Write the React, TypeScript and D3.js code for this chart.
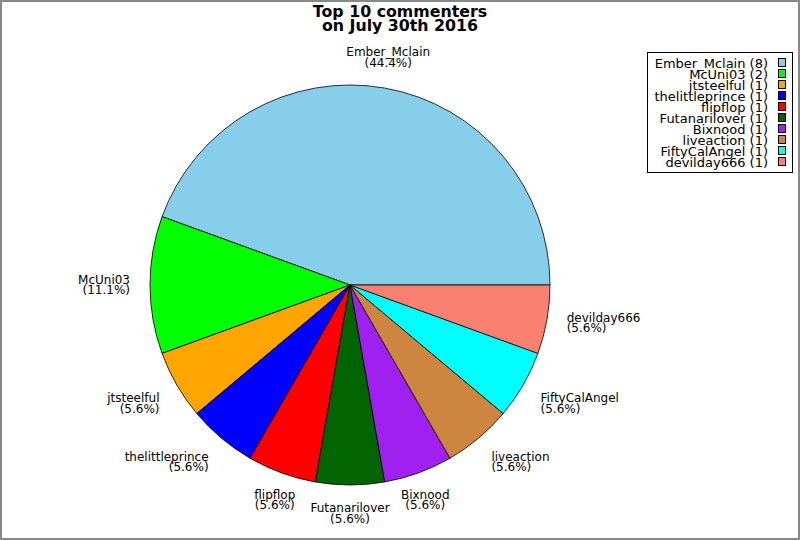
import React, { useEffect, useRef } from 'react';
import * as d3 from 'd3';

const names = [
  'Ember_Mclain', 'McUni03', 'jtsteelful', 'thelittleprince', 'flipflop',
  'Futanarilover', 'Bixnood', 'liveaction', 'FiftyCalAngel', 'devilday666',
];
const counts = [8, 2, 1, 1, 1, 1, 1, 1, 1, 1];
const colors = [
  '#87CEEB', '#00FF00', '#FFA500', '#0000FF', '#FF0000',
  '#006400', '#A020F0', '#CD853F', '#00FFFF', '#FA8072',
];
const titleLines = ['Top 10 commenters', 'on July 30th 2016'];

const width = 800;
const height = 540;

const App: React.FC = () => {
  const svgRef = useRef<SVGSVGElement>(null);

  useEffect(() => {
    if (!svgRef.current) return;
    const svg = d3.select(svgRef.current);
    svg.selectAll('*').remove();

    const font = '"DejaVu Sans", sans-serif';
    const cx = 350;
    const cy = 285;
    const radius = 200;
    const total = d3.sum(counts);

    svg.append('rect')
      .attr('x', 1).attr('y', 1)
      .attr('width', width - 2).attr('height', height - 2)
      .attr('fill', '#fff').attr('stroke', '#888').attr('stroke-width', 2);

    // Title
    titleLines.forEach((t, i) => {
      svg.append('text')
        .attr('x', 400)
        .attr('y', 17 + i * 14)
        .attr('text-anchor', 'middle')
        .attr('font-family', font)
        .attr('font-weight', 'bold')
        .attr('font-size', '15.8px')
        .text(t);
    });

    // Pie: starts at 3 o'clock and runs counterclockwise
    const data = names.map((n, i) => ({ name: n, value: counts[i], color: colors[i] }));
    const pie = d3.pie<typeof data[0]>()
      .value(d => d.value)
      .sort(null)
      .startAngle(Math.PI / 2)
      .endAngle(Math.PI / 2 - 2 * Math.PI);
    const arcs = pie(data);
    const arc = d3.arc<d3.PieArcDatum<typeof data[0]>>()
      .innerRadius(0)
      .outerRadius(radius);

    const g = svg.append('g').attr('transform', `translate(${cx},${cy})`);
    g.selectAll('path')
      .data(arcs)
      .enter()
      .append('path')
      .attr('d', arc)
      .attr('fill', d => d.data.color)
      .attr('stroke', '#000')
      .attr('stroke-width', 0.8);

    // Labels
    const labelR = radius * 1.1;
    const lineH = 10.5;
    arcs.forEach(d => {
      const mid = (d.startAngle + d.endAngle) / 2;
      const x = labelR * Math.sin(mid);
      const y = -labelR * Math.cos(mid);
      const c = Math.sin(mid);
      const s = Math.cos(mid);
      const anchor = c > 0.5 ? 'start' : c < -0.5 ? 'end' : 'middle';
      let top: number;
      if (s > 0.3) top = y - 2 * lineH;
      else if (s < -0.3) top = y - 2;
      else top = y - lineH;
      const lines = [d.data.name, `(${((d.data.value / total) * 100).toFixed(1)}%)`];
      lines.forEach((t, i) => {
        g.append('text')
          .attr('x', x)
          .attr('y', top + i * lineH + 9)
          .attr('text-anchor', anchor)
          .attr('font-family', font)
          .attr('font-size', '12px')
          .attr('fill', '#000')
          .text(t);
      });
    });

    // Legend
    const lg = svg.append('g');
    lg.append('rect')
      .attr('x', 647.5).attr('y', 52.5)
      .attr('width', 145).attr('height', 120)
      .attr('fill', '#fff').attr('stroke', '#000').attr('stroke-width', 1);
    data.forEach((d, i) => {
      const yy = 63 + i * 11;
      lg.append('text')
        .attr('x', 768)
        .attr('y', yy + 4.5)
        .attr('text-anchor', 'end')
        .attr('font-family', font)
        .attr('font-size', '13px')
        .text(`${d.name} (${d.value})`);
      lg.append('rect')
        .attr('x', 778.5).attr('y', yy - 4.5)
        .attr('width', 7).attr('height', 8)
        .attr('fill', d.color)
        .attr('stroke', '#000').attr('stroke-width', 1);
    });
  }, []);

  return (
    <svg
      ref={svgRef}
      width={width}
      height={height}
      style={{ position: 'absolute', left: 0, top: 0 }}
    />
  );
};

export default App;
